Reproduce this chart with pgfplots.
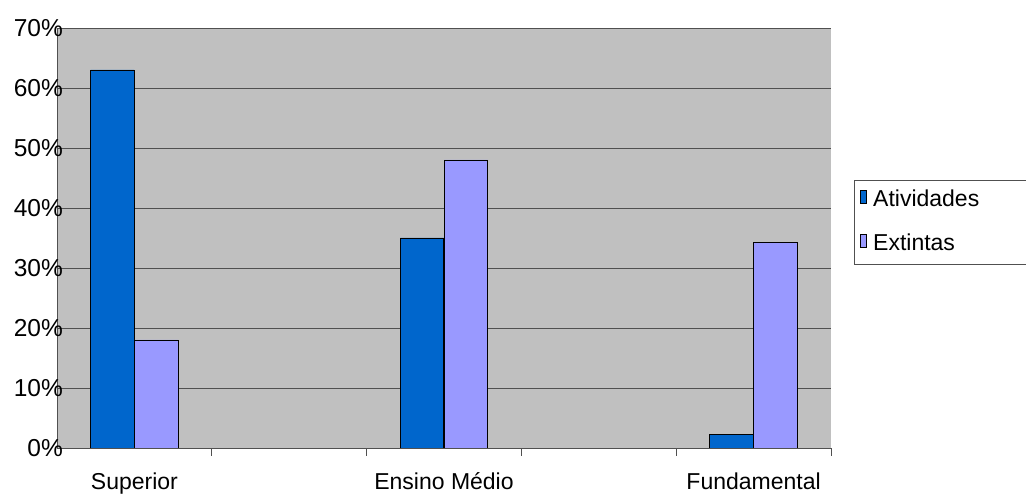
\documentclass[border=0pt]{standalone}
\usepackage{fontspec}
\setmainfont{Liberation Sans}
\usepackage{pgfplots}
\pgfplotsset{compat=1.18}
\definecolor{plotbg}{HTML}{C0C0C0}
\definecolor{atividades}{HTML}{0066CC}
\definecolor{extintas}{HTML}{9999FF}
\definecolor{gridc}{HTML}{505050}
\begin{document}
\fontsize{23pt}{27pt}\selectfont
\begin{tikzpicture}
\path[use as bounding box] (0,0) rectangle (1026pt,495pt);
\begin{axis}[
  at={(57pt,47pt)}, anchor=south west,
  scale only axis, width=774pt, height=420pt,
  xmin=-0.5, xmax=4.5, ymin=0, ymax=70,
  axis background/.style={fill=plotbg},
  axis lines=left,
  axis line style={-, gridc, line width=0.9pt},
  ybar, bar width=43.5pt,
  ytick={0,10,...,70},
  yticklabel={\pgfmathprintnumber{\tick}\%},
  /pgf/number format/assume math mode=true,
  ytick style={draw=none},
  yticklabel style={anchor=east, inner sep=0pt, xshift=14pt, font=\fontsize{24.5pt}{28pt}\selectfont},
  ymajorgrids, grid style={gridc, line width=0.9pt},
  xtick={0.5,1.5,2.5,3.5,4.5}, xticklabels={},
  tick align=outside, major tick length=8pt,
  xtick style={gridc, line width=0.9pt},
  extra x ticks={0,2,4},
  extra x tick labels={Superior, Ensino Médio, Fundamental},
  extra x tick style={major tick length=0pt, xtick style={draw=none},
    tick label style={inner sep=0pt, text height=17pt, text depth=5pt, anchor=north, yshift=-24pt,
      font=\fontsize{23pt}{27pt}\selectfont}},
  legend style={at={(1.0297,0.639)}, anchor=north west, draw=gridc, line width=0.9pt,
    fill=white, inner xsep=6pt, inner ysep=8pt, row sep=20pt, column sep=0pt,
    font=\fontsize{23pt}{27pt}\selectfont, cells={anchor=west}},
  legend image code/.code={\draw[#1, draw=black, line width=0.7pt] (0pt,-3pt) rectangle (6pt,9.5pt);
    \path (10pt,0pt);},
]
\addplot[fill=atividades, draw=black, line width=0.8pt, bar shift=-22pt]
  coordinates {(0,63) (2,35) (4,2.3)};
\addlegendentry{\makebox[170pt][l]{Atividades}}
\addplot[fill=extintas, draw=black, line width=0.8pt, bar shift=22pt]
  coordinates {(0,18) (2,48) (4,34.2)};
\addlegendentry{\makebox[170pt][l]{Extintas}}
\end{axis}
\end{tikzpicture}
\end{document}
